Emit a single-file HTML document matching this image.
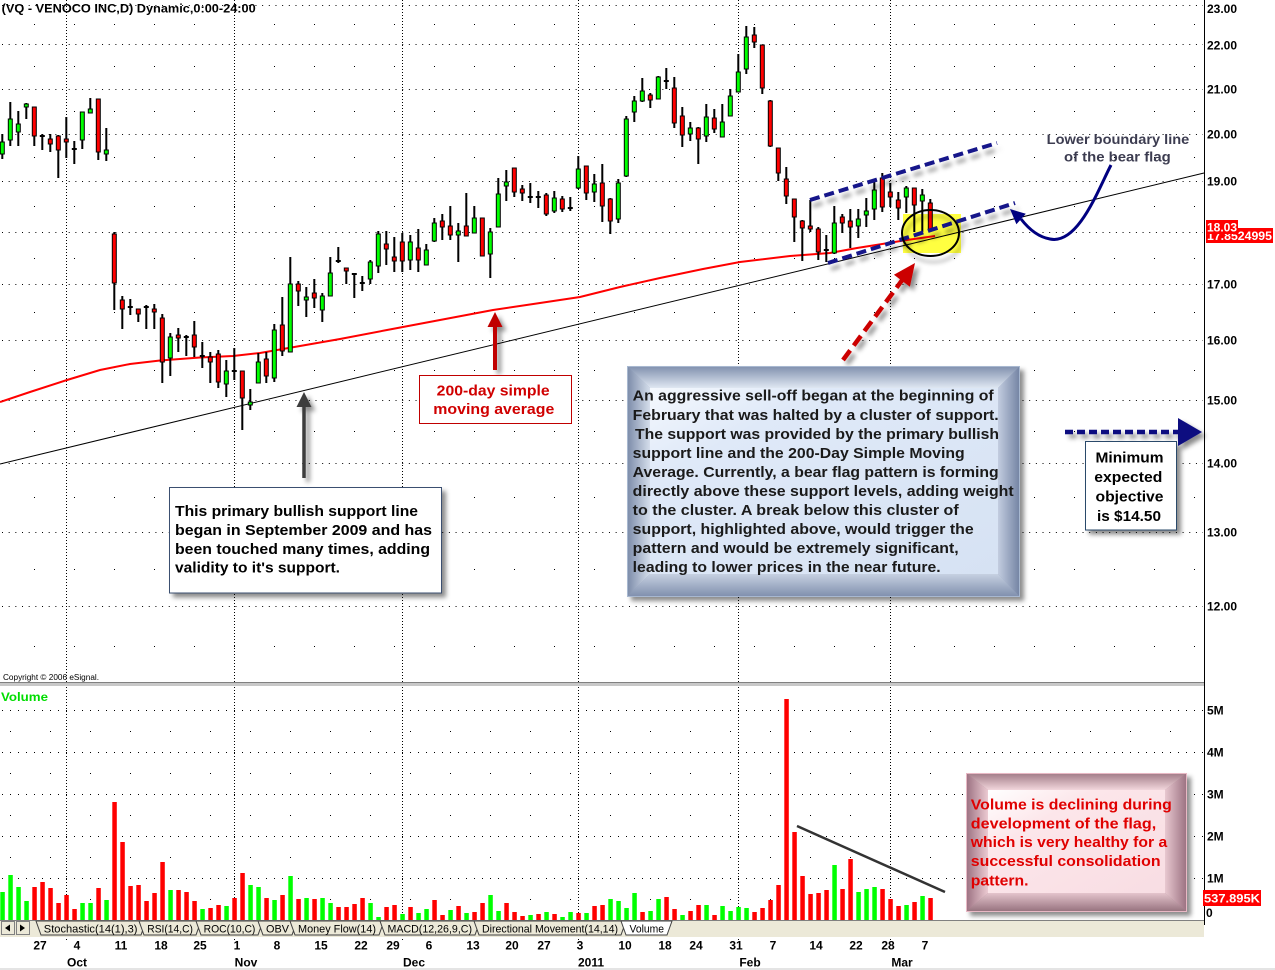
<!DOCTYPE html>
<html><head><meta charset="utf-8"><style>html,body{margin:0;padding:0;background:#fff;}svg{display:block}</style></head>
<body>
<svg width="1275" height="970" viewBox="0 0 1275 970" xmlns="http://www.w3.org/2000/svg" font-family="'Liberation Sans', Arial, sans-serif">
<defs>
<filter id="sh" filterUnits="userSpaceOnUse" x="0" y="0" width="1275" height="970"><feDropShadow dx="4" dy="4" stdDeviation="2.5" flood-color="#000" flood-opacity="0.45"/></filter>
<filter id="sh2" filterUnits="userSpaceOnUse" x="0" y="0" width="1275" height="970"><feDropShadow dx="3" dy="6" stdDeviation="2.2" flood-color="#000" flood-opacity="0.35"/></filter>
<linearGradient id="bT" x1="0" y1="0" x2="0" y2="1"><stop offset="0" stop-color="#7f8fad"/><stop offset="1" stop-color="#dfe7f2"/></linearGradient>
<linearGradient id="bL" x1="0" y1="0" x2="1" y2="0"><stop offset="0" stop-color="#7a8aa8"/><stop offset="1" stop-color="#d5deeb"/></linearGradient>
<linearGradient id="bR" x1="0" y1="0" x2="1" y2="0"><stop offset="0" stop-color="#c3cde0"/><stop offset="1" stop-color="#7282a2"/></linearGradient>
<linearGradient id="bB" x1="0" y1="0" x2="0" y2="1"><stop offset="0" stop-color="#c6d0e1"/><stop offset="1" stop-color="#7e8eac"/></linearGradient>
<linearGradient id="bI" x1="0" y1="0" x2="1" y2="1"><stop offset="0" stop-color="#f4f8fd"/><stop offset="0.25" stop-color="#dfe9f8"/><stop offset="1" stop-color="#d6e2f3"/></linearGradient>
<linearGradient id="pT" x1="0" y1="0" x2="0" y2="1"><stop offset="0" stop-color="#a07a86"/><stop offset="1" stop-color="#f2d6dc"/></linearGradient>
<linearGradient id="pL" x1="0" y1="0" x2="1" y2="0"><stop offset="0" stop-color="#9a7080"/><stop offset="1" stop-color="#eccad2"/></linearGradient>
<linearGradient id="pR" x1="0" y1="0" x2="1" y2="0"><stop offset="0" stop-color="#e8c8d0"/><stop offset="1" stop-color="#9a7080"/></linearGradient>
<linearGradient id="pB" x1="0" y1="0" x2="0" y2="1"><stop offset="0" stop-color="#e4c4cc"/><stop offset="1" stop-color="#94707c"/></linearGradient>
<linearGradient id="pI" x1="0" y1="0" x2="1" y2="1"><stop offset="0" stop-color="#ffffff"/><stop offset="0.3" stop-color="#fce6ea"/><stop offset="1" stop-color="#f8dde3"/></linearGradient>
</defs>
<rect width="1275" height="970" fill="#fff"/>

<!-- grid -->
<g stroke="#000" stroke-width="1" fill="none">
<path stroke-dasharray="1 5.67" d="M2 5.5H1203M2 44.5H1203M2 89.5H1203M2 134.5H1203M2 181.5H1203M2 232.5H1203M2 284.5H1203M2 340.5H1203M2 400.5H1203M2 463.5H1203M2 532.5H1203M2 606.5H1203"/>
<path stroke-dasharray="1 39" d="M34 24.5H1203M34 66.5H1203M34 111.5H1203M34 157.5H1203M34 206.5H1203M34 258.5H1203M34 312.5H1203M34 370.5H1203M34 431.5H1203M34 497.5H1203M34 569.5H1203M34 646.5H1203"/>
<path stroke-dasharray="1 7" d="M2 710.5H1203M2 752.5H1203M2 794.5H1203M2 836.5H1203M2 878.5H1203"/>
<path stroke-dasharray="1 39" d="M10 731.5H1203M10 773.5H1203M10 815.5H1203M10 857.5H1203M10 899.5H1203"/>
<path stroke-dasharray="1 2" d="M66.5 0V942M234.5 0V942M402.5 0V942M578.5 0V942M738.5 0V942M890.5 0V942"/>
</g>

<!-- title / copyright -->
<text x="1.7" y="12.5" font-size="12" font-weight="bold" fill="#000" textLength="254" lengthAdjust="spacingAndGlyphs">(VQ - VENOCO INC,D) Dynamic,0:00-24:00</text>
<text x="3" y="680" font-size="8" fill="#000" textLength="96" lengthAdjust="spacingAndGlyphs">Copyright © 2006 eSignal.</text>

<!-- panel separator -->
<rect x="0" y="682" width="1204" height="4" fill="#c8c8c8"/>
<line x1="0" y1="682.5" x2="1204" y2="682.5" stroke="#808080"/>

<!-- yellow highlight -->
<rect x="903" y="214" width="58" height="39" fill="#ffff40"/>

<!-- support line & SMA -->
<line x1="0" y1="464" x2="1204" y2="173" stroke="#000" stroke-width="1"/>
<polyline fill="none" stroke="#ff0000" stroke-width="2" points="0,402 30,392 67,380 100,370 130,364 160,360.5 200,357.5 233,356 260,353 300,346 340,339 387,330 440,320 493,310 540,303 580,297 620,287 660,278 703,269 740,262 790,256 830,253 857,248 907,240 935,236"/>

<!-- candles wicks -->
<path fill="none" stroke="#000" stroke-width="2" d="M2.3 134V159M10.3 102V146M18.3 111V146M26.3 103V119M34.3 107V146M42.3 134V150M39.8 136h5M50.3 134V152M58.3 135V178M66.3 117V158M74.3 141V164M71.8 149h5M82.3 112V149M90.3 98V113M98.3 99V160M106.3 128V161M114.3 232V310M122.3 296V329M130.3 299V315M127.8 307h5M138.3 309V322M146.3 305V329M143.8 307h5M154.3 304V329M162.3 314V383M170.3 333V376M178.3 328V352M186.3 335V356M183.8 337h5M194.3 321V357M202.3 342V368M199.8 356h5M210.3 352V383M218.3 350V388M226.3 360V397M234.3 348V380M231.8 371h5M242.3 371V430M250.3 389V410M258.3 353V383M266.3 352V383M274.3 324V382M282.3 297V356M290.3 257V352M298.3 281V306M306.3 287V317M314.3 279V308M322.3 293V322M330.3 257V296M338.3 247V263M335.8 261h5M346.3 268V284M354.3 273V298M351.8 274h5M362.3 276V291M359.8 283h5M370.3 260V284M378.3 231V273M386.3 231V265M394.3 237V272M402.3 233V272M410.3 235V270M418.3 229V272M426.3 244V265M434.3 218V242M442.3 214V240M450.3 206V240M458.3 223V262M466.3 193V236M474.3 206V233M482.3 218V256M490.3 228V278M498.3 178V227M506.3 170V201M514.3 168V197M522.3 185V201M530.3 183V203M527.8 197h5M538.3 191V208M535.8 197h5M546.3 193V216M554.3 191V213M562.3 196V212M570.3 197V211M567.8 208h5M578.3 156V189M586.3 166V200M594.3 174V202M602.3 164V222M610.3 198V234M618.3 179V223M626.3 116V177M634.3 96V122M642.3 78V102M650.3 93V108M658.3 76V99M666.3 68V89M663.8 81h5M674.3 77V128M682.3 107V147M690.3 122V141M698.3 127V164M706.3 104V142M714.3 109V133M722.3 104V137M730.3 89V116M738.3 54V92M746.3 26V74M754.3 27V48M762.3 45V94M770.3 100V147M778.3 148V181M786.3 167V204M794.3 199V242M802.3 220V261M810.3 200V232M818.3 227V260M826.3 235V262M823.8 250h5M834.3 206V254M842.3 214V233M850.3 209V248M858.3 209V238M866.3 198V227M874.3 182V220M882.3 173V212M890.3 183V207M898.3 192V220M906.3 186V213M914.3 188V232M922.3 189V232M930.3 199V230"/>
<!-- green bodies -->
<path fill="#00ff00" stroke="#000" stroke-width="1" d="M0.3 142h4V154h-4zM8.3 119h4V140h-4zM16.3 124h4V132h-4zM24.3 104h4V107h-4zM80.3 112h4V140h-4zM88.3 109h4V113h-4zM104.3 150h4V154h-4zM168.3 337h4V358h-4zM224.3 371h4V384h-4zM248.3 402h4V405h-4zM256.3 362h4V383h-4zM272.3 330h4V378h-4zM288.3 284h4V352h-4zM304.3 297h4V300h-4zM320.3 296h4V310h-4zM328.3 273h4V296h-4zM368.3 262h4V279h-4zM376.3 234h4V266h-4zM408.3 242h4V260h-4zM424.3 250h4V265h-4zM432.3 223h4V241h-4zM456.3 231h4V235h-4zM472.3 218h4V233h-4zM488.3 232h4V254h-4zM496.3 194h4V227h-4zM504.3 182h4V186h-4zM552.3 198h4V211h-4zM576.3 169h4V188h-4zM592.3 184h4V192h-4zM616.3 183h4V219h-4zM624.3 119h4V176h-4zM632.3 101h4V112h-4zM640.3 91h4V101h-4zM656.3 77h4V99h-4zM688.3 128h4V134h-4zM704.3 117h4V136h-4zM720.3 122h4V137h-4zM728.3 96h4V116h-4zM736.3 72h4V92h-4zM744.3 37h4V69h-4zM832.3 223h4V253h-4zM856.3 219h4V226h-4zM864.3 211h4V215h-4zM872.3 190h4V209h-4zM904.3 188h4V197h-4zM920.3 195h4V201h-4z"/>
<!-- red bodies -->
<path fill="#ff0000" stroke="#000" stroke-width="1" d="M32.3 107h4V136h-4zM48.3 139h4V144h-4zM56.3 136h4V150h-4zM64.3 139h4V142h-4zM96.3 99h4V152h-4zM112.3 234h4V283h-4zM120.3 300h4V309h-4zM136.3 309h4V314h-4zM152.3 309h4V312h-4zM160.3 318h4V362h-4zM176.3 335h4V338h-4zM192.3 335h4V347h-4zM208.3 357h4V362h-4zM216.3 354h4V382h-4zM240.3 371h4V398h-4zM264.3 359h4V376h-4zM280.3 325h4V351h-4zM296.3 284h4V291h-4zM312.3 293h4V298h-4zM344.3 268h4V271h-4zM384.3 244h4V249h-4zM392.3 257h4V261h-4zM400.3 242h4V261h-4zM416.3 248h4V260h-4zM440.3 221h4V227h-4zM448.3 226h4V235h-4zM464.3 226h4V236h-4zM480.3 218h4V256h-4zM512.3 168h4V192h-4zM520.3 189h4V193h-4zM544.3 195h4V214h-4zM560.3 199h4V209h-4zM584.3 166h4V193h-4zM600.3 183h4V206h-4zM608.3 199h4V221h-4zM648.3 95h4V100h-4zM672.3 88h4V123h-4zM680.3 116h4V135h-4zM696.3 128h4V139h-4zM712.3 118h4V129h-4zM752.3 35h4V42h-4zM760.3 45h4V88h-4zM768.3 101h4V146h-4zM776.3 148h4V173h-4zM784.3 179h4V196h-4zM792.3 199h4V217h-4zM800.3 221h4V228h-4zM808.3 226h4V229h-4zM816.3 229h4V252h-4zM840.3 217h4V223h-4zM848.3 221h4V227h-4zM880.3 178h4V207h-4zM888.3 192h4V197h-4zM896.3 200h4V208h-4zM912.3 188h4V205h-4zM928.3 203h4V230h-4z"/>

<!-- flag channel -->
<g filter="url(#sh2)" stroke="#14148a" stroke-width="4" stroke-dasharray="10 5" fill="none">
<line x1="810" y1="200" x2="997" y2="143"/>
<line x1="828" y1="263" x2="1015" y2="203"/>
</g>
<ellipse cx="930.5" cy="233" rx="28.5" ry="23" fill="none" stroke="#000" stroke-width="2" filter="url(#sh2)"/>

<!-- red dashed arrow -->
<g filter="url(#sh)">
<line x1="843" y1="360" x2="903" y2="279" stroke="#cc0000" stroke-width="4.5" stroke-dasharray="12 6"/>
<polygon points="915,263 909.9,286.7 893.9,274.7" fill="#cc0000"/>
</g>

<!-- lower boundary text + arrow -->
<text x="1046.7" y="144" font-size="14" font-weight="bold" fill="#3c3c50" textLength="142.6" lengthAdjust="spacingAndGlyphs">Lower boundary line</text>
<text x="1064" y="161.5" font-size="14" font-weight="bold" fill="#3c3c50" textLength="106.7" lengthAdjust="spacingAndGlyphs">of the bear flag</text>
<path d="M1111 165C1098 190 1078 245 1050 239C1038 237 1028 228 1021 219" fill="none" stroke="#000080" stroke-width="3"/>
<polygon points="1010,209 1025.8,213.8 1016.4,224.2" fill="#000080"/>

<!-- left annotation -->
<g filter="url(#sh)">
<line x1="304" y1="478" x2="304" y2="405" stroke="#3c3c3c" stroke-width="3.5"/>
<polygon points="304,392 296.5,407 311.5,407" fill="#3c3c3c"/>
<rect x="169.5" y="487.5" width="272" height="105.5" fill="#fff" stroke="#3a5070" stroke-width="1"/>
</g>
<g font-size="15" font-weight="bold" fill="#000">
<text x="175" y="516" textLength="243" lengthAdjust="spacingAndGlyphs">This primary bullish support line</text>
<text x="175" y="535" textLength="257" lengthAdjust="spacingAndGlyphs">began in September 2009 and has</text>
<text x="175" y="554" textLength="255" lengthAdjust="spacingAndGlyphs">been touched many times, adding</text>
<text x="175" y="572.5" textLength="165" lengthAdjust="spacingAndGlyphs">validity to it's support.</text>
</g>

<!-- 200-day annotation -->
<g filter="url(#sh)">
<line x1="495" y1="370" x2="495" y2="325" stroke="#c00000" stroke-width="4"/>
<polygon points="495,312 487.5,327 502.5,327" fill="#c00000"/>
</g>
<rect x="419.5" y="375.5" width="152" height="48" fill="#fff" stroke="#c00000" stroke-width="1"/>
<g font-size="15" font-weight="bold" fill="#d00000">
<text x="436.7" y="395.5" textLength="113" lengthAdjust="spacingAndGlyphs">200-day simple</text>
<text x="433.3" y="413.8" textLength="121" lengthAdjust="spacingAndGlyphs">moving average</text>
</g>

<!-- big blue box -->
<g filter="url(#sh)">
<rect x="627" y="366" width="393" height="231" fill="#8a9ab8"/>
</g>
<polygon points="627,366 1020,366 998,388 650,388" fill="url(#bT)"/>
<polygon points="627,366 650,388 650,574 627,597" fill="url(#bL)"/>
<polygon points="1020,366 1020,597 998,574 998,388" fill="url(#bR)"/>
<polygon points="627,597 650,574 998,574 1020,597" fill="url(#bB)"/>
<rect x="650" y="388" width="348" height="186" fill="url(#bI)"/>
<rect x="627.5" y="366.5" width="392" height="230" fill="none" stroke="#a8b8d0" stroke-width="1"/>
<g font-size="15" font-weight="bold" fill="#1a1a1a">
<text x="632.7" y="400.5" textLength="361" lengthAdjust="spacingAndGlyphs">An aggressive sell-off began at the beginning of</text>
<text x="632.7" y="419.8" textLength="366" lengthAdjust="spacingAndGlyphs">February that was halted by a cluster of support.</text>
<text x="635" y="438.8" textLength="364" lengthAdjust="spacingAndGlyphs">The support was provided by the primary bullish</text>
<text x="632.7" y="457.8" textLength="332" lengthAdjust="spacingAndGlyphs">support line and the 200-Day Simple Moving</text>
<text x="632.7" y="477.2" textLength="366" lengthAdjust="spacingAndGlyphs">Average. Currently, a bear flag pattern is forming</text>
<text x="632.7" y="496.2" textLength="381" lengthAdjust="spacingAndGlyphs">directly above these support levels, adding weight</text>
<text x="632.7" y="514.8" textLength="326" lengthAdjust="spacingAndGlyphs">to the cluster.  A break below this cluster of</text>
<text x="632.7" y="533.8" textLength="341" lengthAdjust="spacingAndGlyphs">support, highlighted above, would trigger the</text>
<text x="632.7" y="552.8" textLength="326" lengthAdjust="spacingAndGlyphs">pattern and would be extremely significant,</text>
<text x="632.7" y="572.2" textLength="308" lengthAdjust="spacingAndGlyphs">leading to lower prices in the near future.</text>
</g>

<!-- minimum objective -->
<g filter="url(#sh)">
<line x1="1065" y1="432" x2="1180" y2="432" stroke="#0c0c80" stroke-width="4.5" stroke-dasharray="8 4"/>
<polygon points="1178,418 1202,432 1178,446" fill="#0c0c80"/>
<rect x="1085.5" y="441.5" width="91" height="88.5" fill="#fff" stroke="#2a4a6a" stroke-width="1"/>
</g>
<g font-size="15" font-weight="bold" fill="#000" text-anchor="middle">
<text x="1129.5" y="462.5" textLength="68" lengthAdjust="spacingAndGlyphs">Minimum</text>
<text x="1128.3" y="482" textLength="68" lengthAdjust="spacingAndGlyphs">expected</text>
<text x="1129.5" y="501.5" textLength="68" lengthAdjust="spacingAndGlyphs">objective</text>
<text x="1129" y="521" textLength="64" lengthAdjust="spacingAndGlyphs">is $14.50</text>
</g>

<!-- volume -->
<text x="1" y="701" font-size="12" font-weight="bold" fill="#00dd00" textLength="47" lengthAdjust="spacingAndGlyphs">Volume</text>
<path fill="#00ff00" d="M0.3 920V892h4.5V920zM8.3 920V875h4.5V920zM16.3 920V887h4.5V920zM24.3 920V901h4.5V920zM80.3 920V903h4.5V920zM88.3 920V903h4.5V920zM104.3 920V900h4.5V920zM168.3 920V890h4.5V920zM200.3 920V909h4.5V920zM224.3 920V906h4.5V920zM248.3 920V885h4.5V920zM256.3 920V887h4.5V920zM272.3 920V900h4.5V920zM288.3 920V876h4.5V920zM304.3 920V898h4.5V920zM320.3 920V898h4.5V920zM328.3 920V903h4.5V920zM368.3 920V903h4.5V920zM376.3 920V917h4.5V920zM400.3 920V914h4.5V920zM416.3 920V913h4.5V920zM424.3 920V909h4.5V920zM448.3 920V910h4.5V920zM464.3 920V913h4.5V920zM488.3 920V895h4.5V920zM496.3 920V911h4.5V920zM528.3 920V915h4.5V920zM544.3 920V912h4.5V920zM560.3 920V917h4.5V920zM568.3 920V912h4.5V920zM584.3 920V913h4.5V920zM608.3 920V899h4.5V920zM616.3 920V901h4.5V920zM624.3 920V908h4.5V920zM632.3 920V893h4.5V920zM648.3 920V911h4.5V920zM656.3 920V899h4.5V920zM680.3 920V915h4.5V920zM704.3 920V905h4.5V920zM720.3 920V906h4.5V920zM728.3 920V911h4.5V920zM736.3 920V907h4.5V920zM744.3 920V908h4.5V920zM832.3 920V865h4.5V920zM856.3 920V892h4.5V920zM864.3 920V889h4.5V920zM872.3 920V887h4.5V920zM904.3 920V905h4.5V920zM920.3 920V896h4.5V920z"/>
<path fill="#ff0000" d="M32.3 920V887h4.5V920zM40.3 920V882h4.5V920zM48.3 920V888h4.5V920zM56.3 920V903h4.5V920zM64.3 920V895h4.5V920zM72.3 920V909h4.5V920zM96.3 920V888h4.5V920zM112.3 920V802h4.5V920zM120.3 920V842h4.5V920zM128.3 920V886h4.5V920zM136.3 920V885h4.5V920zM144.3 920V901h4.5V920zM152.3 920V893h4.5V920zM160.3 920V862h4.5V920zM176.3 920V890h4.5V920zM184.3 920V892h4.5V920zM192.3 920V901h4.5V920zM208.3 920V908h4.5V920zM216.3 920V905h4.5V920zM232.3 920V898h4.5V920zM240.3 920V873h4.5V920zM264.3 920V898h4.5V920zM280.3 920V895h4.5V920zM296.3 920V899h4.5V920zM312.3 920V899h4.5V920zM336.3 920V907h4.5V920zM344.3 920V907h4.5V920zM352.3 920V904h4.5V920zM360.3 920V898h4.5V920zM384.3 920V907h4.5V920zM392.3 920V905h4.5V920zM408.3 920V907h4.5V920zM432.3 920V900h4.5V920zM440.3 920V915h4.5V920zM456.3 920V906h4.5V920zM472.3 920V912h4.5V920zM480.3 920V903h4.5V920zM504.3 920V903h4.5V920zM512.3 920V912h4.5V920zM520.3 920V916h4.5V920zM536.3 920V914h4.5V920zM552.3 920V914h4.5V920zM576.3 920V913h4.5V920zM592.3 920V906h4.5V920zM600.3 920V905h4.5V920zM640.3 920V912h4.5V920zM664.3 920V897h4.5V920zM672.3 920V909h4.5V920zM688.3 920V911h4.5V920zM696.3 920V905h4.5V920zM712.3 920V915h4.5V920zM752.3 920V912h4.5V920zM760.3 920V908h4.5V920zM768.3 920V900h4.5V920zM776.3 920V885h4.5V920zM784.3 920V699h4.5V920zM792.3 920V832h4.5V920zM800.3 920V876h4.5V920zM808.3 920V894h4.5V920zM816.3 920V893h4.5V920zM824.3 920V890h4.5V920zM840.3 920V889h4.5V920zM848.3 920V859h4.5V920zM880.3 920V889h4.5V920zM888.3 920V899h4.5V920zM896.3 920V906h4.5V920zM912.3 920V902h4.5V920zM928.3 920V898h4.5V920z"/>
<line x1="797" y1="826" x2="945" y2="892" stroke="#333" stroke-width="2.5"/>

<!-- pink box -->
<g filter="url(#sh)">
<rect x="966" y="773" width="221" height="139" fill="#a07a86"/>
</g>
<polygon points="966,773 1187,773 1165,790 988,790" fill="url(#pT)"/>
<polygon points="966,773 988,790 988,893 966,912" fill="url(#pL)"/>
<polygon points="1187,773 1187,912 1165,893 1165,790" fill="url(#pR)"/>
<polygon points="966,912 988,893 1165,893 1187,912" fill="url(#pB)"/>
<rect x="988" y="790" width="177" height="103" fill="url(#pI)"/>
<rect x="966.5" y="773.5" width="220" height="138" fill="none" stroke="#e8b8c4" stroke-width="1"/>
<g font-size="15" font-weight="bold" fill="#e00000">
<text x="970.8" y="809.5" textLength="201" lengthAdjust="spacingAndGlyphs">Volume is declining during</text>
<text x="970.8" y="828.3" textLength="185.4" lengthAdjust="spacingAndGlyphs">development of the flag,</text>
<text x="970.8" y="847.2" textLength="196.4" lengthAdjust="spacingAndGlyphs">which is very healthy for a</text>
<text x="970.8" y="866.2" textLength="189.8" lengthAdjust="spacingAndGlyphs">successful consolidation</text>
<text x="970.8" y="885.5" textLength="57.7" lengthAdjust="spacingAndGlyphs">pattern.</text>
</g>

<!-- right axis -->
<line x1="1204.5" y1="0" x2="1204.5" y2="925" stroke="#000" stroke-width="1"/>
<g font-size="12" font-weight="bold" fill="#000">
<text x="1207" y="13">23.00</text>
<text x="1207" y="49.5">22.00</text>
<text x="1207" y="93.5">21.00</text>
<text x="1207" y="138.5">20.00</text>
<text x="1207" y="185.5">19.00</text>
<text x="1207" y="288.5">17.00</text>
<text x="1207" y="344.5">16.00</text>
<text x="1207" y="404.5">15.00</text>
<text x="1207" y="467.5">14.00</text>
<text x="1207" y="536.5">13.00</text>
<text x="1207" y="610.5">12.00</text>
<text x="1207" y="714.5">5M</text>
<text x="1207" y="756.5">4M</text>
<text x="1207" y="798.5">3M</text>
<text x="1207" y="840.5">2M</text>
<text x="1207" y="882.5">1M</text>
<text x="1206" y="917">0</text>
</g>
<rect x="1206" y="228" width="67" height="15" fill="#ff0000"/>
<text x="1207" y="240" font-size="12" font-weight="bold" fill="#fff" textLength="65" lengthAdjust="spacingAndGlyphs">17.8524995</text>
<rect x="1206" y="220" width="32" height="14" fill="#ff0000"/>
<text x="1207" y="231.5" font-size="12" font-weight="bold" fill="#fff">18.03</text>
<rect x="1203" y="890" width="58" height="16" fill="#ff0000"/>
<text x="1204" y="902.5" font-size="12" font-weight="bold" fill="#fff" textLength="56" lengthAdjust="spacingAndGlyphs">537.895K</text>

<!-- tab bar -->
<rect x="0" y="920" width="1204" height="17" fill="#ece9d8"/>
<line x1="0" y1="920.5" x2="1204" y2="920.5" stroke="#808080"/>
<rect x="1.5" y="921.5" width="13" height="13" fill="#ece9d8" stroke="#808080"/>
<rect x="16.5" y="921.5" width="13" height="13" fill="#ece9d8" stroke="#808080"/>
<polygon points="5,928 10,924.5 10,931.5" fill="#000"/>
<polygon points="25,928 20,924.5 20,931.5" fill="#000"/>
<g fill="#ece9d8" stroke="#404040" stroke-width="1">
<polygon points="36,921 146,921 141,935 41,935"/>
<polygon points="139,921 201,921 196,935 144,935"/>
<polygon points="196,921 263,921 258,935 201,935"/>
<polygon points="258,921 297,921 292,935 263,935"/>
<polygon points="290,921 384,921 379,935 295,935"/>
<polygon points="380,921 480,921 475,935 385,935"/>
<polygon points="474,921 626,921 621,935 479,935"/>
<polygon points="621,921 672,921 667,935 626,935" fill="#fff"/>
</g>
<g font-size="11" fill="#000">
<text x="43.8" y="932.5" textLength="93.7" lengthAdjust="spacingAndGlyphs">Stochastic(14(1),3)</text>
<text x="147.3" y="932.5" textLength="45.6" lengthAdjust="spacingAndGlyphs">RSI(14,C)</text>
<text x="203.6" y="932.5" textLength="51.8" lengthAdjust="spacingAndGlyphs">ROC(10,C)</text>
<text x="266" y="932.5" textLength="23" lengthAdjust="spacingAndGlyphs">OBV</text>
<text x="298" y="932.5" textLength="78" lengthAdjust="spacingAndGlyphs">Money Flow(14)</text>
<text x="387.5" y="932.5" textLength="84.5" lengthAdjust="spacingAndGlyphs">MACD(12,26,9,C)</text>
<text x="482" y="932.5" textLength="136" lengthAdjust="spacingAndGlyphs">Directional Movement(14,14)</text>
<text x="629.5" y="932.5" textLength="34.5" lengthAdjust="spacingAndGlyphs">Volume</text>
</g>

<!-- x axis labels -->
<g font-size="12" font-weight="bold" fill="#000" text-anchor="middle">
<text x="40" y="949.5">27</text><text x="77" y="949.5">4</text><text x="121" y="949.5">11</text><text x="161" y="949.5">18</text><text x="200" y="949.5">25</text><text x="237" y="949.5">1</text><text x="277" y="949.5">8</text><text x="321" y="949.5">15</text><text x="361" y="949.5">22</text><text x="393" y="949.5">29</text><text x="429" y="949.5">6</text><text x="473" y="949.5">13</text><text x="512" y="949.5">20</text><text x="544" y="949.5">27</text><text x="580" y="949.5">3</text><text x="625" y="949.5">10</text><text x="665" y="949.5">18</text><text x="696" y="949.5">24</text><text x="736" y="949.5">31</text><text x="773" y="949.5">7</text><text x="816" y="949.5">14</text><text x="856" y="949.5">22</text><text x="888" y="949.5">28</text><text x="925" y="949.5">7</text>
<text x="77" y="966.5">Oct</text><text x="246" y="966.5">Nov</text><text x="414" y="966.5">Dec</text><text x="591" y="966.5">2011</text><text x="750" y="966.5">Feb</text><text x="902" y="966.5">Mar</text>
</g>
<rect x="0" y="968" width="1275" height="2" fill="#e4e4e4"/>
</svg>
</body></html>
